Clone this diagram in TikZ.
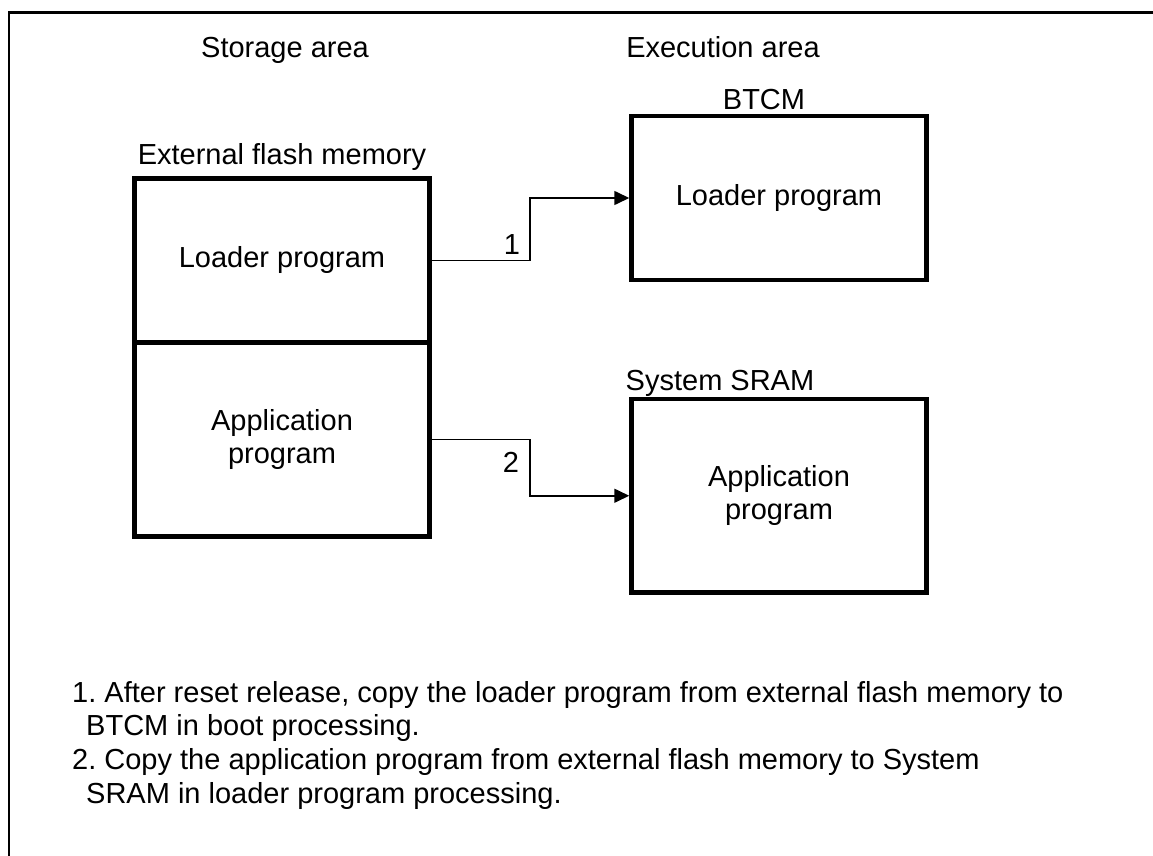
\documentclass[tikz,border=0pt]{standalone}
\usepackage{fontspec}
\setmainfont{Liberation Sans}
\usetikzlibrary{arrows.meta}
\frenchspacing

\begin{document}
\begin{tikzpicture}[x=1pt,y=-1pt,
        font=\fontsize{29}{33}\selectfont,
        mem/.style={draw,line width=4.5pt,minimum width=295pt,align=center,inner sep=0pt},
        conn/.style={line width=1.6pt,-{Triangle[length=15pt,width=14pt]}}]
        \useasboundingbox (0,0) rectangle (1153,856);
        \draw[line width=2.5pt] (9,856) -- (9,12.5) -- (1153,12.5);
        % area titles
        \node[anchor=base] (storage) at (285,58) {Storage area};
        \node[anchor=base] (execution) at (723,58) {Execution area};
        \node[anchor=base] (flashname) at (282,164) {External flash memory};
        \node[anchor=base] (btcmname) at (764,110) {BTCM};
        \node[anchor=base] (sramname) at (720,390) {System SRAM};
        % memories
        \node[mem,minimum height=164pt] (flashldr) at (282,260.5) {Loader program};
        \node[mem,minimum height=194pt] (flashapp) at (282,439.5) {Application\\program};
        \node[mem,minimum height=163.5pt] (btcm) at (779,198) {Loader program};
        \node[mem,minimum height=193.5pt] (sram) at (779,495.75) {Application\\program};
        % copies
        \draw[conn] (flashldr.east) -- ++(98,0) |- (btcm.west);
        \draw[conn] (flashapp.east) -- ++(98,0) |- (sram.west);
        \node (lblone) at (512,245) {1};
        \node (lbltwo) at (511,462) {2};
        \node[anchor=north west,inner sep=0pt,align=left,font=\fontsize{29}{33.7}\selectfont] (notes) at (72,681)
           {1. After reset release, copy the loader program from external flash memory to\\
            \hspace*{14pt}BTCM in boot processing.\\
            2. Copy the application program from external flash memory to System\\
            \hspace*{14pt}SRAM in loader program processing.};
\end{tikzpicture}
\end{document}
